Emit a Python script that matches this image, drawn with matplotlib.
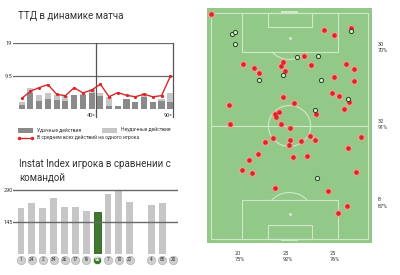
import numpy as np
import matplotlib
matplotlib.use("Agg")
import matplotlib.pyplot as plt
from matplotlib.patches import Rectangle, Arc

plt.rcParams['font.family'] = ['Roboto', 'DejaVu Sans']

W, H = 400, 275

# --- ТТД по отрезкам матча ---
ttd_total = [2.2, 6.0, 4.1, 4.8, 4.0, 3.9, 4.2, 4.3, 5.9,
             4.7, 3.4, 1.0, 2.9, 2.2, 4.8, 2.2, 2.9, 4.8]
ttd_success = [1.2, 4.6, 2.3, 2.9, 2.8, 2.3, 4.2, 4.2, 4.8,
               3.9, 1.0, 1.0, 2.9, 2.2, 3.6, 2.2, 2.5, 2.2]
ttd_avg = [3.1, 5.2, 6.2, 7.1, 4.3, 3.9, 6.2, 4.7, 5.5,
           7.2, 3.6, 4.8, 4.0, 3.6, 4.3, 3.6, 3.9, 9.4]
ttd_ticks = [9.5, 19]
ttd_marks = [(8.5, '40»'), (17.35, '90»')]

# --- Instat Index ---
index_players = ['1', '24', '2', '34', '26', '17', '16', '90', '7', '10', '22', None, '4', '85', '20']
index_values = [210, 231, 210, 254, 214, 214, 195, 190, 270, 292, 236, 0, 223, 231, 0]
index_ticks = [145, 290]
HIGHLIGHT = '90'

# --- карта действий (метры: x поперёк поля, y вдоль) ---
ok_x = [0.0, 49.1, 53.4, 60.5, 14.0, 18.8, 20.9, 31.1, 30.3, 32.0, 40.3, 43.3, 58.5,
        61.8, 53.3, 61.8, 52.5, 55.6, 59.8, 57.7, 7.7, 31.3, 35.8, 29.3, 27.6, 28.2,
        45.5, 8.2, 30.3, 34.3, 43.0, 44.9, 27.0, 23.5, 34.1, 33.9, 39.0, 65.1, 59.2,
        20.5, 16.6, 35.6, 41.4, 13.4, 17.6, 62.8, 27.8, 50.8, 58.8, 55.0]
ok_y = [104.4, 97.1, 94.8, 97.9, 81.2, 79.6, 77.3, 82.4, 80.5, 78.1, 85.0, 80.9, 81.2,
        79.0, 75.4, 73.3, 68.0, 66.4, 63.8, 60.4, 62.1, 66.0, 63.3, 59.0, 57.9, 56.7,
        57.9, 53.4, 53.4, 51.7, 47.9, 46.1, 47.1, 45.2, 45.9, 43.8, 45.7, 47.5, 42.4,
        39.4, 36.8, 38.2, 38.7, 32.1, 30.7, 31.0, 23.8, 22.3, 15.3, 11.9]
miss_x = [9.0, 10.3, 10.5, 37.1, 46.2, 60.6, 20.8, 31.1, 47.8, 59.2, 45.0, 46.0]
miss_y = [95.1, 96.2, 90.5, 84.4, 85.2, 96.7, 74.0, 76.2, 73.9, 65.2, 59.8, 28.3]

zone_rows = [('30', '70%'), ('32', '91%'), ('8', '87%')]
zone_rows_y = [88.8, 53.0, 16.7]
zone_cols = [('20', '75%'), ('25', '92%'), ('25', '76%')]
zone_cols_x = [10.4, 31.2, 51.5]

DARK = '#8a8a8a'
LIGHT = '#c6c6c6'
RED = '#d8262a'
TEXT = '#333333'
LINE = '#6a6a6a'
CHALK = '#cfe9c8'


def px_axes(fig, left, top, right, bottom):
    return fig.add_axes([left / W, 1 - bottom / H, (right - left) / W, (bottom - top) / H])


fig = plt.figure(figsize=(W / 100, H / 100), dpi=100)
fig.patch.set_facecolor('white')

# ---------- top-left: ТТД ----------
fig.text(18 / W, 1 - 16 / H, 'ТТД в динамике матча', fontsize=7, color=TEXT, va='center')

ax1 = px_axes(fig, 12.7, 43, 173.3, 109.3)
x = np.arange(len(ttd_total))
fail = np.array(ttd_total) - np.array(ttd_success)
ax1.bar(x, ttd_success, width=0.7, color=DARK, zorder=2)
ax1.bar(x, fail, bottom=ttd_success, width=0.7, color=LIGHT, zorder=2)
for t in ttd_ticks:
    ax1.axhline(t, color=LINE, lw=0.9, zorder=1)
for pos, lab in ttd_marks:
    ax1.axvline(pos, ymin=-0.115, ymax=1, color='#555555', lw=0.9, clip_on=False, zorder=1)
    ax1.text(pos - 0.1, -1.7, lab, fontsize=4, color=TEXT, ha='right', va='center')
ax1.plot(x, ttd_avg, color=RED, lw=1.0, marker='o', ms=1.3, zorder=3)
ax1.set_xlim(-1.03, 17.35)
ax1.set_ylim(0, 19)
ax1.set_yticks(ttd_ticks)
ax1.set_yticklabels(['9.5', '19'])
ax1.set_xticks([])
ax1.tick_params(axis='y', length=0, pad=0.5, labelsize=4, labelcolor=TEXT)
for s in ax1.spines.values():
    s.set_visible(False)
ax1.patch.set_alpha(0)

# legend (overlay in pixel coords)
ov = fig.add_axes([0, 0, 1, 1], zorder=-1)
ov.set_xlim(0, W)
ov.set_ylim(H, 0)
ov.axis('off')
ov.add_patch(Rectangle((18, 127.5), 15, 5, color=DARK, lw=0))
ov.text(37, 130, 'Удачные действия', fontsize=3.6, color=TEXT, va='center')
ov.add_patch(Rectangle((102, 127.5), 15, 5, color=LIGHT, lw=0))
ov.text(121, 130, 'Неудачные действия', fontsize=3.6, color=TEXT, va='center')
ov.plot([19, 32], [138, 138], color=RED, lw=1.0, marker='o', ms=1.5)
ov.text(37, 138, 'В среднем всех действий на одного игрока', fontsize=3.6, color=TEXT, va='center')

# ---------- bottom-left: Instat Index ----------
fig.text(19 / W, 1 - 164 / H, 'Instat Index игрока в сравнении с', fontsize=7, color=TEXT, va='center')
fig.text(19 / W, 1 - 178 / H, 'командой', fontsize=7, color=TEXT, va='center')

ax2 = px_axes(fig, 13.3, 187.8, 178, 254)
for i, (name, val) in enumerate(zip(index_players, index_values)):
    if name is None:
        continue
    hl = name == HIGHLIGHT
    if val > 0:
        ax2.bar(i, val, width=0.64, color='#3e7a2c' if hl else LIGHT,
                edgecolor='#2c5a20' if hl else 'none', lw=0.6, zorder=2)
    ax2.scatter(i, -27, s=36, color='#3e7a2c' if hl else '#cfcfcf',
                edgecolor='white' if hl else '#b5b5b5', lw=0.5, clip_on=False, zorder=3)
    ax2.text(i, -27, name, fontsize=3.4, color='white' if hl else TEXT,
             ha='center', va='center', fontweight='bold' if hl else 'normal', zorder=4)
for t in index_ticks:
    ax2.axhline(t, color=LINE, lw=1.0, zorder=3)
ax2.set_xlim(-0.71, 14.44)
ax2.set_ylim(0, 300)
ax2.set_yticks(index_ticks)
ax2.set_yticklabels(['145', '290'])
ax2.set_xticks([])
ax2.tick_params(axis='y', length=0, pad=0.5, labelsize=4, labelcolor=TEXT)
for s in ax2.spines.values():
    s.set_visible(False)
ax2.patch.set_alpha(0)

# ---------- right: pitch ----------
ax3 = px_axes(fig, 207, 8, 372, 243)
ax3.set_facecolor('#92c988')
ax3.set_xlim(-1.73, 69.73)
ax3.set_ylim(-1.86, 107.3)
ax3.set_xticks([])
ax3.set_yticks([])
for s in ax3.spines.values():
    s.set_visible(False)

pl = dict(fill=False, ec=CHALK, lw=0.8, zorder=1)
ax3.add_patch(Rectangle((0, 0), 68, 105, **pl))
ax3.plot([0, 68], [52.5, 52.5], color=CHALK, lw=0.8, zorder=1)
ax3.add_patch(Arc((34, 52.5), 18.3, 19.0, ec=CHALK, lw=0.8, zorder=1))
ax3.scatter([34], [52.5], s=1.5, color=CHALK, zorder=1)
for top in (True, False):
    base = 105 if top else 0
    d = -1 if top else 1
    ax3.add_patch(Rectangle((13.4, base), 41.6, 18 * d, **pl))
    ax3.add_patch(Rectangle((24.6, base), 19.0, 6.5 * d, **pl))
    spot = base + 11.6 * d
    ax3.scatter([34], [spot], s=1.5, color=CHALK, zorder=1)
    ax3.add_patch(Arc((34, spot), 20, 20, theta1=220 if top else 40, theta2=320 if top else 140,
                      ec=CHALK, lw=0.8, zorder=1))
    ax3.add_patch(Rectangle((30.3, base), 7.4, -1.0 * d, color=CHALK, lw=0, zorder=1, clip_on=False))

ax3.scatter(ok_x, ok_y, s=30, color='#f2a090', alpha=0.8, lw=0, zorder=2, clip_on=False)
ax3.scatter(ok_x, ok_y, s=11, color=RED, lw=0, zorder=3, clip_on=False)
ax3.scatter(miss_x, miss_y, s=9, facecolor='#d6eccf', edgecolor='#1d451d', lw=0.7, zorder=3)

for (a, b), yy in zip(zone_rows, zone_rows_y):
    ax3.text(72.3, yy, a + '\n' + b, fontsize=4, color=TEXT, va='center', ha='left',
             linespacing=1.3, clip_on=False)
for (a, b), xx in zip(zone_cols, zone_cols_x):
    ax3.text(xx, -8.0, a + '\n' + b, fontsize=4, color=TEXT, va='center', ha='left',
             linespacing=1.3, clip_on=False)

fig.savefig('out.png', dpi=100)
